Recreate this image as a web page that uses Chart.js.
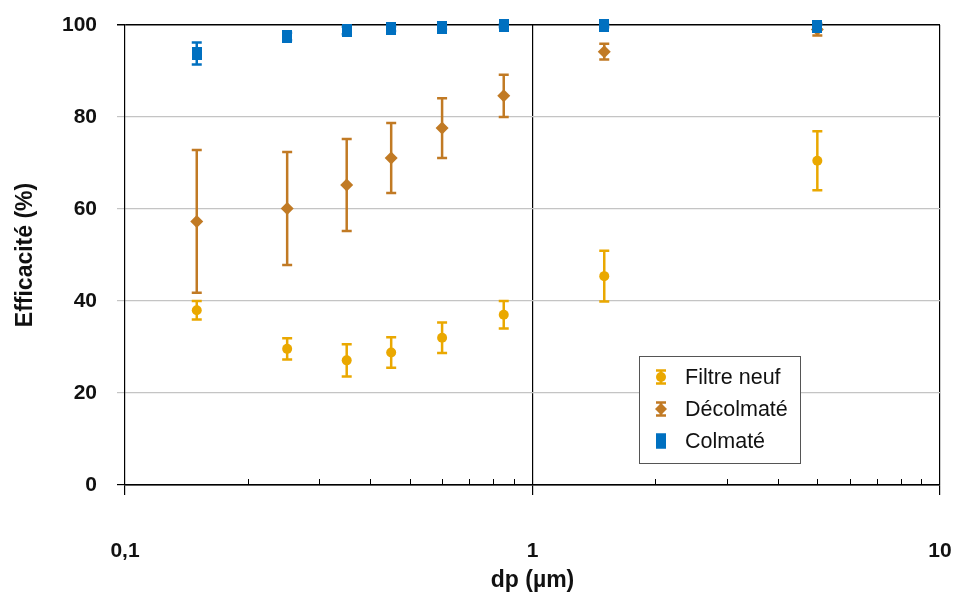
<!DOCTYPE html>
<html>
<head>
<meta charset="utf-8">
<script src="https://cdn.jsdelivr.net/npm/chart.js@4/dist/chart.umd.min.js"></script>
<style>
  body { margin: 0; background: #fff; }
  #wrap { width: 966px; height: 592px; }
</style>
</head>
<body>
<div id="wrap"><canvas id="chart"></canvas></div>
<script>
// particle diameter (µm)
const dp = [0.15, 0.25, 0.35, 0.45, 0.6, 0.85, 1.5, 5];

const filtreNeuf    = [38.0, 29.6, 27.1, 28.8, 32.0, 37.0, 45.4, 70.5];
const filtreNeufErr = [2.0, 2.3, 3.5, 3.3, 3.3, 3.0, 5.5, 6.4];

const decolmate    = [57.3, 60.1, 65.2, 71.1, 77.6, 84.6, 94.2, 99.0];
const decolmateErr = [15.5, 12.3, 10.0, 7.6, 6.5, 4.6, 1.7, 1.3];

const colmate    = [93.8, 97.5, 98.8, 99.2, 99.5, 99.8, 99.8, 99.6];
const colmateErr = [2.4, 0.8, 0.8, 0.5, 0.4, 0.3, 0.3, 0.5];

const xTicks = [0.1, 0.2, 0.3, 0.4, 0.5, 0.6, 0.7, 0.8, 0.9, 1, 2, 3, 4, 5, 6, 7, 8, 9, 10];
const xLabels = { 0.1: '0,1', 1: '1', 10: '10' };
const yTicks = [0, 20, 40, 60, 80, 100];

const GOLD = '#EAA800';
const BROWN = '#C17A24';
const BLUE = '#0070C0';

const tickFont = { family: "'Liberation Sans', Arial, sans-serif", size: 21, weight: 'bold' };
const titleFont = { family: "'Liberation Sans', Arial, sans-serif", size: 23, weight: 'bold', lineHeight: 1 };

function squareMarker() {
    const c = document.createElement('canvas');
    c.width = 10;
    c.height = 13;
    const g = c.getContext('2d');
    g.fillStyle = BLUE;
    g.fillRect(0, 0, 10, 13);
    return c;
}

function toPoints(ys) {
    return ys.map((v, i) => ({ x: dp[i], y: v }));
}

// vertical error bars, drawn under the markers
const errorBars = {
    id: 'errorBars',
    beforeDatasetsDraw(chart) {
        const { ctx, scales: { x, y } } = chart;
        ctx.save();
        chart.data.datasets.forEach(ds => {
            ctx.strokeStyle = ds.borderColor;
            ctx.lineWidth = 2.5;
            ds.data.forEach((p, j) => {
                const e = ds.errors[j];
                const px = x.getPixelForValue(p.x);
                const top = y.getPixelForValue(p.y + e);
                const bot = y.getPixelForValue(p.y - e);
                ctx.beginPath();
                ctx.moveTo(px, top); ctx.lineTo(px, bot);
                ctx.moveTo(px - 5, top); ctx.lineTo(px + 5, top);
                ctx.moveTo(px - 5, bot); ctx.lineTo(px + 5, bot);
                ctx.stroke();
            });
        });
        ctx.restore();
    }
};

// small inner ticks for the log minor values
const minorTicks = {
    id: 'minorTicks',
    afterDraw(chart) {
        const { ctx, scales: { x }, chartArea } = chart;
        ctx.save();
        ctx.strokeStyle = '#000';
        ctx.lineWidth = 1;
        xTicks.filter(v => !(v in xLabels)).forEach(v => {
            const px = Math.round(x.getPixelForValue(v)) + 0.5;
            ctx.beginPath();
            ctx.moveTo(px, chartArea.bottom);
            ctx.lineTo(px, chartArea.bottom - 6);
            ctx.stroke();
        });
        ctx.restore();
    }
};

// boxed legend inside the plot
const boxLegend = {
    id: 'boxLegend',
    afterDraw(chart) {
        const ctx = chart.ctx;
        const bx = 639.5, by = 356.5, bw = 161, bh = 107;
        ctx.save();
        ctx.fillStyle = '#fff';
        ctx.fillRect(bx, by, bw, bh);
        ctx.strokeStyle = '#555';
        ctx.lineWidth = 1;
        ctx.strokeRect(bx, by, bw, bh);
        chart.data.datasets.forEach((ds, i) => {
            const cy = by + 20.5 + i * 32;
            const cx = bx + 21.5;
            ctx.strokeStyle = ds.borderColor;
            ctx.lineWidth = 2.5;
            ctx.beginPath();
            ctx.moveTo(cx, cy - 6.5); ctx.lineTo(cx, cy + 6.5);
            ctx.moveTo(cx - 5, cy - 6.5); ctx.lineTo(cx + 5, cy - 6.5);
            ctx.moveTo(cx - 5, cy + 6.5); ctx.lineTo(cx + 5, cy + 6.5);
            ctx.stroke();
            ctx.fillStyle = ds.borderColor;
            if (ds.pointStyle === 'circle') {
                ctx.beginPath(); ctx.arc(cx, cy, 5, 0, Math.PI * 2); ctx.fill();
            } else if (ds.pointStyle === 'rectRot') {
                ctx.beginPath();
                ctx.moveTo(cx, cy - 6); ctx.lineTo(cx + 6, cy); ctx.lineTo(cx, cy + 6); ctx.lineTo(cx - 6, cy);
                ctx.closePath(); ctx.fill();
            } else {
                ctx.fillRect(cx - 5, cy - 6, 10, 13);
            }
            ctx.fillStyle = '#111';
            ctx.font = "21.5px 'Liberation Sans', Arial, sans-serif";
            ctx.textBaseline = 'middle';
            ctx.fillText(ds.label, bx + 45.5, cy + 1);
        });
        ctx.restore();
    }
};

const config = {
    type: 'scatter',
    data: {
        datasets: [{
            label: 'Filtre neuf',
            data: toPoints(filtreNeuf),
            errors: filtreNeufErr,
            borderColor: GOLD,
            backgroundColor: GOLD,
            pointStyle: 'circle',
            pointRadius: 5,
            pointBorderWidth: 0,
            order: 2,
            clip: false
        }, {
            label: 'Décolmaté',
            data: toPoints(decolmate),
            errors: decolmateErr,
            borderColor: BROWN,
            backgroundColor: BROWN,
            pointStyle: 'rectRot',
            pointRadius: 6.5,
            pointBorderWidth: 0,
            order: 1,
            clip: false
        }, {
            label: 'Colmaté',
            data: toPoints(colmate),
            errors: colmateErr,
            borderColor: BLUE,
            backgroundColor: BLUE,
            pointStyle: squareMarker(),
            pointRadius: 6,
            pointBorderWidth: 0,
            order: 0,
            clip: false
        }]
    },
    options: {
        responsive: true,
        maintainAspectRatio: false,
        animation: false,
        layout: { padding: { left: 0, top: 25, right: 26, bottom: 0 } },
        plugins: {
            legend: { display: false },
            tooltip: { enabled: false }
        },
        scales: {
            x: {
                type: 'logarithmic',
                min: 0.1,
                max: 10,
                afterBuildTicks: scale => {
                    scale.ticks = xTicks.map(v => ({ value: v }));
                },
                afterFit: scale => {
                    scale.height = 107;
                    scale.paddingLeft = 0;
                    scale.paddingRight = 0;
                },
                ticks: {
                    autoSkip: false,
                    maxRotation: 0,
                    padding: 44,
                    color: '#111',
                    font: tickFont,
                    callback: v => xLabels[v] || ''
                },
                grid: {
                    color: c => (c.tick && (c.tick.value === 1 || c.tick.value === 10)) ? '#000' : 'rgba(0,0,0,0)',
                    tickColor: c => (c.tick && (c.tick.value in xLabels)) ? '#000' : 'rgba(0,0,0,0)',
                    tickLength: 10,
                    lineWidth: 1.2
                },
                border: { color: '#000', width: 1.5 },
                title: {
                    display: true,
                    text: 'dp (µm)',
                    color: '#111',
                    font: titleFont,
                    padding: { top: 0, bottom: 0 }
                }
            },
            y: {
                min: 0,
                max: 100,
                afterBuildTicks: scale => {
                    scale.ticks = yTicks.map(v => ({ value: v }));
                },
                afterFit: scale => {
                    scale.width = 125;
                    scale.paddingTop = 0;
                    scale.paddingBottom = 0;
                },
                ticks: {
                    padding: 20,
                    color: '#111',
                    font: tickFont
                },
                grid: {
                    color: c => (c.tick && (c.tick.value === 0 || c.tick.value === 100)) ? '#000' : '#C4C4C4',
                    tickLength: 8,
                    lineWidth: c => (c.tick && c.tick.value === 100) ? 1.5 : 1.2
                },
                border: { color: '#000', width: 1.2 },
                title: {
                    display: true,
                    text: 'Efficacité (%)',
                    color: '#111',
                    font: titleFont,
                    padding: { top: 14, bottom: 0 }
                }
            }
        }
    },
    plugins: [errorBars, minorTicks, boxLegend]
};

new Chart(document.getElementById('chart'), config);
</script>
</body>
</html>
